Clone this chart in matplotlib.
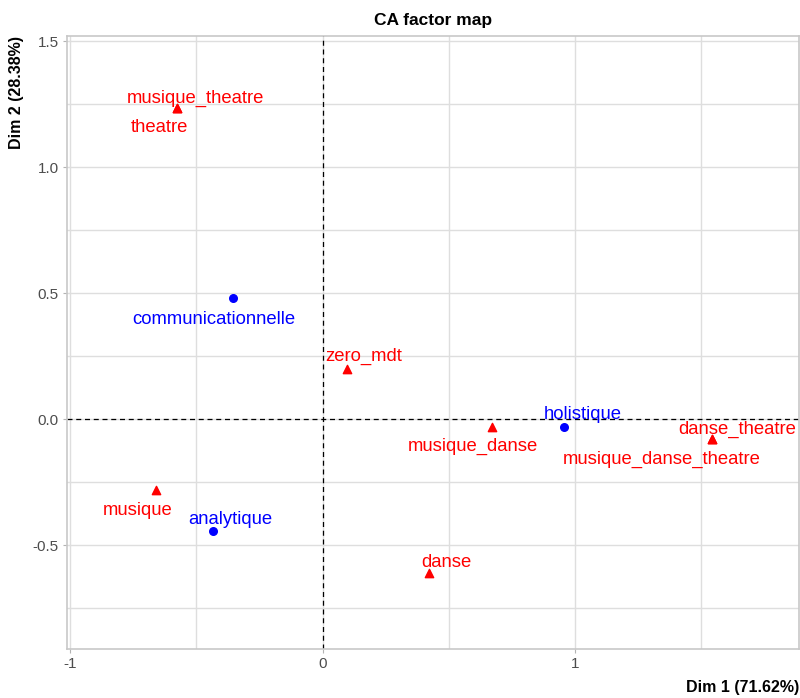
#!/usr/bin/env python3
"""CA factor map -- rows (blue) and columns (red) on dims 1 and 2."""

import matplotlib
matplotlib.use("Agg")
import matplotlib.pyplot as plt
from matplotlib.ticker import MultipleLocator

plt.rcParams["font.family"] = ["Liberation Sans", "DejaVu Sans"]

# row points (blue)
row_names = ["communicationnelle", "holistique", "analytique"]
row_x = [-0.355, 0.954, -0.435]
row_y = [0.480, -0.032, -0.444]

# column points (red)
col_names = ["musique_theatre", "theatre", "zero_mdt", "musique_danse",
             "danse_theatre", "musique_danse_theatre", "musique", "danse"]
col_x = [-0.577, -0.577, 0.097, 0.669, 1.542, 1.542, -0.661, 0.419]
col_y = [1.234, 1.234, 0.198, -0.032, -0.079, -0.079, -0.282, -0.611]

# label offsets (data units), as placed by the repel step
row_off = [(-0.075, -0.085), (0.075, 0.05), (0.07, 0.045)]
col_off = [(0.075, 0.04), (-0.07, -0.075), (0.065, 0.05), (-0.075, -0.075),
           (0.1, 0.04), (-0.2, -0.08), (-0.07, -0.08), (0.07, 0.04)]

C_ROW = "#0000ff"
C_COL = "#ff0000"
C_GRID = "#dedede"

fig = plt.figure(figsize=(8, 6.98), dpi=100)
ax = fig.add_axes([0.084, 0.07, 0.915, 0.878])

ax.set_xlim(-1.012, 1.887)
ax.set_ylim(-0.913, 1.52)

ax.axhline(0, color="black", lw=0.9, ls=(0, (4, 3)), zorder=2)
ax.axvline(0, color="black", lw=0.9, ls=(0, (4, 3)), zorder=2)

ax.scatter(row_x, row_y, marker="o", s=30, color=C_ROW, zorder=3)
ax.scatter(col_x, col_y, marker="^", s=36, color=C_COL, zorder=3)

for name, x, y, (dx, dy) in zip(row_names, row_x, row_y, row_off):
    ax.text(x + dx, y + dy, name, color=C_ROW, fontsize=13.3,
            ha="center", va="center", zorder=4)
for name, x, y, (dx, dy) in zip(col_names, col_x, col_y, col_off):
    ax.text(x + dx, y + dy, name, color=C_COL, fontsize=13.3,
            ha="center", va="center", zorder=4)

ax.xaxis.set_major_locator(MultipleLocator(1))
ax.xaxis.set_minor_locator(MultipleLocator(0.5))
ax.yaxis.set_major_locator(MultipleLocator(0.5))
ax.yaxis.set_minor_locator(MultipleLocator(0.25))
ax.set_xticks([-1, 0, 1])
ax.set_xticklabels(["-1", "0", "1"])
ax.set_yticks([-0.5, 0.0, 0.5, 1.0, 1.5])
ax.set_yticklabels(["-0.5", "0.0", "0.5", "1.0", "1.5"])

ax.grid(True, which="major", color=C_GRID, lw=1.0, zorder=0)
ax.grid(True, which="minor", color=C_GRID, lw=1.0, zorder=0)
ax.set_axisbelow(True)

ax.tick_params(which="major", length=3, color="#b3b3b3", labelsize=11,
               labelcolor="#4d4d4d", pad=3)
ax.tick_params(which="minor", length=0)
for sp in ax.spines.values():
    sp.set_color("#c8c8c8")
    sp.set_linewidth(1.2)

ax.set_title("CA factor map", fontsize=12.5, fontweight="bold", pad=8)
ax.set_xlabel("Dim 1 (71.62%)", fontsize=11.5, fontweight="bold", loc="right",
              labelpad=6)
ax.set_ylabel("Dim 2 (28.38%)", fontsize=11.5, fontweight="bold", loc="top",
              labelpad=6)

fig.savefig("out.png", dpi=100)
